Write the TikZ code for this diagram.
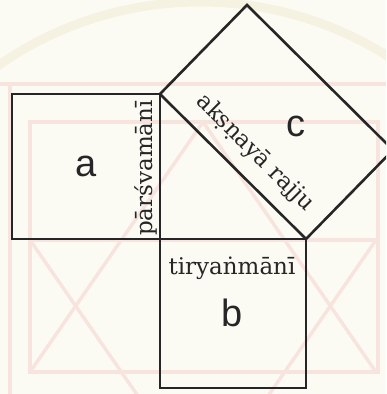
\documentclass[tikz,border=0pt]{standalone}
\usepackage{fontspec}
\setmainfont{DejaVu Serif}
\newfontfamily\labfont{Liberation Sans}
\definecolor{bgcream}{HTML}{FCFBF3}
\definecolor{wmpink}{HTML}{F8E4DF}
\definecolor{wmbeige}{HTML}{F6F2E2}
\definecolor{ink}{HTML}{262626}
\begin{document}
\begin{tikzpicture}[x=1pt,y=-1pt,
  sq/.style={draw=ink, line width=2.6pt, line join=miter},
  wm/.style={draw=wmpink, line width=3.5pt},
  wmband/.style={draw=wmbeige, line width=9pt},
  biglab/.style={font=\labfont\fontsize{38}{40}\selectfont, inner sep=0pt, text=ink},
  sidelab/.style={font=\fontsize{23}{25}\selectfont, inner sep=0pt, text=ink}]
\useasboundingbox (0,0) rectangle (386,394);
\clip (0,0) rectangle (386,394);
\fill[bgcream] (0,0) rectangle (386,394);
% faint watermark
\draw[wmband] (200,354) circle (352);
\draw[wm] (0,84) -- (386,84);
\draw[wm] (10,84) -- (10,394);
\draw[wm] (30,122) rectangle (378,372);
\draw[wm] (203,122) -- (30,372);
\draw[wm] (203,122) -- (376,372);
\draw[wm] (30,240) -- (376,240);
\draw[wm] (30,240) -- (203,490);
\draw[wm] (376,240) -- (203,490);
% figure
\coordinate (A) at (160,94);
\coordinate (R) at (160,239);
\coordinate (B) at (306,239);
\coordinate (C1) at (247,5);
\coordinate (C2) at (393,150);
\coordinate (AL) at (12,94);
\coordinate (BL) at (306,388);
\draw[sq] (AL) rectangle (R);
\draw[sq] (R) rectangle (BL);
\draw[sq] (A) -- (C1) -- (C2) -- (B) -- cycle;
% labels
\node[biglab] (la) at (86,166) {a};
\node[biglab] (lb) at (232,313) {b};
\node[biglab] (lc) at (296,126) {c};
\node[sidelab, rotate=90] (lp) at (146,168) {pārśvamānī};
\node[sidelab] (lt) at (232,268) {tiryaṅmānī};
\node[sidelab, rotate=-44.8] (lk) at (255,153) {akṣṇayā rajju};
\end{tikzpicture}
\end{document}
